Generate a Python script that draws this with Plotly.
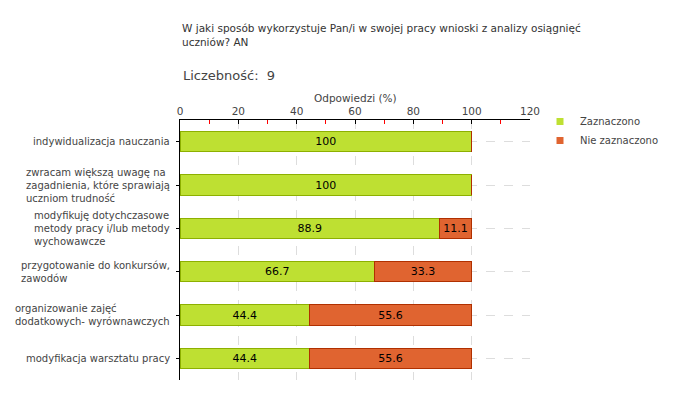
import plotly.graph_objects as go

categories = [
    "indywidualizacja nauczania",
    "zwracam większą uwagę na<br>zagadnienia, które sprawiają<br>uczniom trudność",
    "modyfikuję dotychczasowe<br>metody pracy i/lub metody<br>wychowawcze",
    "przygotowanie do konkursów,<br>zawodów",
    "organizowanie zajęć<br>dodatkowych- wyrównawczych",
    "modyfikacja warsztatu pracy",
]
zaznaczono = [100, 100, 88.9, 66.7, 44.4, 44.4]
nie_zaznaczono = [0, 0, 11.1, 33.3, 55.6, 55.6]
series_names = ["Zaznaczono", "Nie zaznaczono"]

font = "DejaVu Sans"
gray = "#444444"
green, green_line = "#BEE032", "#8DB000"
orange, orange_line = "#E06430", "#B03000"

fig = go.Figure()
fig.add_trace(go.Bar(
    y=categories, x=zaznaczono, name=series_names[0], orientation="h", showlegend=False,
    marker=dict(color=green, line=dict(color=green_line, width=1)),
    text=[f"{v:g}" for v in zaznaczono], textposition="inside",
    insidetextanchor="middle", textfont=dict(color="black", size=11, family=font),
))
fig.add_trace(go.Bar(
    y=categories, x=nie_zaznaczono, name=series_names[1], orientation="h", showlegend=False,
    marker=dict(color=orange, line=dict(color=orange_line, width=1)),
    text=[f"{v:g}" if v else "" for v in nie_zaznaczono], textposition="inside",
    insidetextanchor="middle", textfont=dict(color="black", size=11, family=font),
))

# legend entries with small square swatches
for name, col in zip(series_names, [green, orange]):
    fig.add_trace(go.Scatter(x=[None], y=[None], mode="markers", name=name,
                             marker=dict(symbol="square", size=7, color=col)))

# category labels as annotations so multi-line text is left aligned
for c in categories:
    fig.add_annotation(x=0, xref="paper", y=c, yref="y", text=c, showarrow=False,
                       xanchor="right", align="left", xshift=-8,
                       font=dict(size=10, family=font, color=gray))

fig.add_annotation(x=0, xref="paper", xshift=1, y=1, yref="paper", yshift=45,
                   text="Liczebność:  9", showarrow=False, xanchor="left", yanchor="middle",
                   font=dict(size=13, family=font, color=gray))
fig.add_annotation(x=0.5, xref="paper", y=1, yref="paper", yshift=22,
                   text="Odpowiedzi (%)", showarrow=False, yanchor="middle",
                   font=dict(size=10.5, family=font, color=gray))

fig.update_layout(
    width=680, height=400,
    margin=dict(l=180, r=150, t=120, b=20, autoexpand=False),
    paper_bgcolor="white", plot_bgcolor="white",
    barmode="stack", bargap=0.53,
    font=dict(family=font, size=10, color=gray),
    title=dict(text="W jaki sposób wykorzystuje Pan/i w swojej pracy wnioski z analizy osiągnięć<br>uczniów? AN",
               x=182 / 680, xanchor="left", y=0.92, yanchor="top",
               font=dict(size=10.5, family=font, color="#333333")),
    showlegend=True,
    legend=dict(xref="container", x=540 / 680, yref="container", y=1 - 107 / 400,
                xanchor="left", yanchor="top", bgcolor="rgba(0,0,0,0)",
                font=dict(size=10, family=font, color=gray),
                tracegroupgap=0, itemwidth=30, traceorder="normal"),
    xaxis=dict(side="top", range=[0, 120], dtick=20, showline=True, linecolor="black",
               ticks="inside", ticklen=4, tickcolor="black", automargin=False,
               minor=dict(dtick=10, ticks="inside", ticklen=4, tickcolor="red", showgrid=False),
               showgrid=True, gridcolor="#dddddd", griddash="dash",
               zeroline=False, tickfont=dict(size=10.5, color=gray)),
    yaxis=dict(autorange="reversed", showticklabels=False, showline=True, linecolor="black",
               ticks="outside", ticklen=3, tickcolor="black", automargin=False,
               showgrid=True, gridcolor="#dddddd", griddash="dash"),
)

fig.write_html("out.html", config={"displayModeBar": False},
               post_script="document.body.style.margin = '0';")
